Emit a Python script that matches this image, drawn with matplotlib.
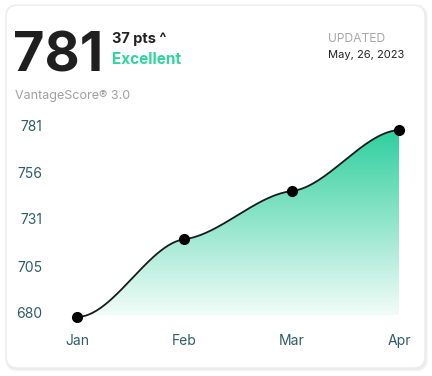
import numpy as np
import matplotlib.pyplot as plt
from matplotlib.patches import FancyBboxPatch, Polygon
from matplotlib.colors import LinearSegmentedColormap
import matplotlib.transforms as mtransforms

plt.rcParams['font.family'] = ['Inter', 'DejaVu Sans']

# data
months = ['Jan', 'Feb', 'Mar', 'Apr']
scores = [680, 722, 748, 781]
yticks = [680, 705, 731, 756, 781]
score_now = '781'
change = '37 pts'
rating = 'Excellent'
updated = 'May, 26, 2023'

W, H = 432, 376
fig = plt.figure(figsize=(W / 100, H / 100), dpi=100)
fig.patch.set_facecolor('white')

# card with soft shadow
for i, a in enumerate([0.015, 0.025, 0.035]):
    d = (3 - i) * 1.5
    sh = FancyBboxPatch((6 - d / 2 + 1, H - 368 - d / 2 - 1.5), 419 + d, 363 + d,
                        boxstyle='round,pad=0,rounding_size=12', transform=None,
                        facecolor='black', edgecolor='none', alpha=a, zorder=-3)
    fig.patches.append(sh)
card = FancyBboxPatch((6, H - 368), 419, 363, boxstyle='round,pad=0,rounding_size=12',
                      transform=None, facecolor='white', edgecolor='#ececec', linewidth=1, zorder=-2)
fig.patches.append(card)

def px(x, y):
    return x / W, 1 - y / H

# header texts
fig.text(*px(13, 57), score_now, fontsize=39, fontweight='bold', color='#1f1f1f', va='center', ha='left')
fig.text(*px(112, 39), change + ' ^', fontsize=10.5, fontweight='bold', color='#222222', va='center', ha='left')
fig.text(*px(112, 60), rating, fontsize=11, fontweight='bold', color='#2fd69a', va='center', ha='left')
fig.text(*px(15, 96), 'VantageScore® 3.0', fontsize=9, color='#a0a0a0', va='center', ha='left')
fig.text(*px(328, 39), 'UPDATED', fontsize=8.7, color='#a8a8a8', va='center', ha='left')
fig.text(*px(328, 55), updated, fontsize=8, color='#222222', va='center', ha='left')

# chart axes: Jan at x=77, Apr at x=399; 680 at y=317, 781 at y=130
x0, x1, yb, yt = 77, 399, 317, 130
ax = fig.add_axes([x0 / W, 1 - yb / H, (x1 - x0) / W, (yb - yt) / H])
ax.set_xlim(0, len(months) - 1)
ax.set_ylim(680, 781)
ax.patch.set_alpha(0)
for s in ax.spines.values():
    s.set_visible(False)

x = np.arange(len(scores))
y = np.array(scores, dtype=float)

# smooth hermite curve with flattened tangents
sec = np.diff(y)
m = np.zeros_like(y)
m[1:-1] = 0.22 * (sec[:-1] + sec[1:]) / 2
m[0] = 0.0
m[-1] = 0.1 * sec[-1]
xs, ys = [], []
for i in range(len(x) - 1):
    t = np.linspace(0, 1, 60)
    h00 = 2 * t**3 - 3 * t**2 + 1
    h10 = t**3 - 2 * t**2 + t
    h01 = -2 * t**3 + 3 * t**2
    h11 = t**3 - t**2
    xs.append(x[i] + t)
    ys.append(h00 * y[i] + h10 * m[i] + h01 * y[i + 1] + h11 * m[i + 1])
xs = np.concatenate(xs)
ys = np.concatenate(ys)

# gradient fill under curve
cmap = LinearSegmentedColormap.from_list('g', ['#f2fcf9', '#2fcf9c'])
grad = np.linspace(0, 1, 256).reshape(-1, 1)
im = ax.imshow(grad, cmap=cmap, aspect='auto', origin='lower',
               extent=[0, 3, 681, max(scores)], zorder=1)
poly = Polygon(np.column_stack([np.r_[xs, xs[-1], xs[0]], np.r_[ys, 681, 681]]),
               closed=True, facecolor='none', edgecolor='none', transform=ax.transData)
ax.add_patch(poly)
im.set_clip_path(poly)

ax.plot(xs, ys, color='#1a1a1a', lw=1.3, zorder=3, clip_on=False)
ax.plot(x, y, 'o', color='black', ms=7, zorder=4, clip_on=False)

ax.set_xticks(x)
ax.set_xticklabels(months)
ax.set_yticks(yticks)
ax.set_yticklabels([str(v) for v in yticks])
ax.tick_params(length=0, labelsize=10, colors='#2e5c6a')
ax.tick_params(axis='y', pad=25)
ax.tick_params(axis='x', pad=12.5)
off = mtransforms.ScaledTranslation(0, 4 / 100, fig.dpi_scale_trans)
for lab in ax.get_yticklabels():
    lab.set_transform(lab.get_transform() + off)

fig.savefig('out.png', dpi=100, facecolor='white')
